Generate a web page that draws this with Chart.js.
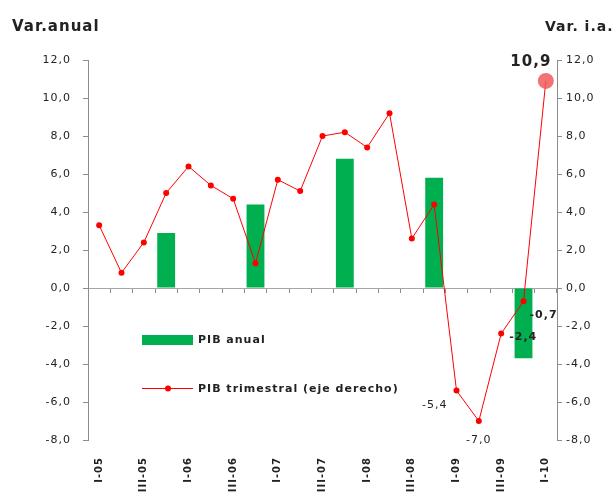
<!DOCTYPE html>
<html lang="es">
<head>
    <meta charset="UTF-8">
    <title>PIB anual y trimestral</title>
    <style>
        body {
            margin: 0;
            background-color: #fff;
        }

        #wrap {
            width: 613px;
            height: 495px;
        }
    </style>
</head>
<body>
    <div id="wrap">
        <canvas id="graph"></canvas>
    </div>

    <script src="https://cdn.jsdelivr.net/npm/chart.js"></script>
    <script>
        // quarters I-05 .. I-10
        const quarters = ['I-05', 'II-05', 'III-05', 'IV-05', 'I-06', 'II-06', 'III-06', 'IV-06',
            'I-07', 'II-07', 'III-07', 'IV-07', 'I-08', 'II-08', 'III-08', 'IV-08',
            'I-09', 'II-09', 'III-09', 'IV-09', 'I-10'];
        // annual GDP, shown on the last quarter of each year (left axis)
        const pibAnual = [null, null, null, 2.9, null, null, null, 4.4, null, null, null, 6.8,
            null, null, null, 5.8, null, null, null, -3.7, null];
        // quarterly GDP, year-on-year (right axis)
        const pibTrimestral = [3.3, 0.8, 2.4, 5.0, 6.4, 5.4, 4.7, 1.3, 5.7, 5.1, 8.0, 8.2,
            7.4, 9.2, 2.6, 4.4, -5.4, -7.0, -2.4, -0.7, 10.9];
        const axisMin = -8;
        const axisMax = 12;
        const axisStep = 2;

        const green = '#00b050';
        const red = '#ff0000';
        const axisColor = '#8c8c8c';
        const textColor = '#222';
        const font = 'DejaVu Sans';

        const fmt = v => v.toFixed(1).replace('.', ',');

        // labels drawn next to some points: [index, dx, dy, align, size, bold]
        const pointLabels = [
            [16, -9, 15, 'right', 11, false],
            [17, 0, 19, 'center', 11, false],
            [18, 8, 4, 'left', 11, true],
            [19, 6, 14, 'left', 11, true],
            [20, -15, -19, 'center', 15, true]
        ];

        // the source text is spaced out a little
        const spacing = {
            id: 'spacing',
            beforeLayout(chart) { chart.ctx.letterSpacing = '1px'; },
            beforeDraw(chart) { chart.ctx.letterSpacing = '1px'; }
        };

        const extras = {
            id: 'extras',
            afterDraw(chart) {
                const ctx = chart.ctx;
                ctx.save();
                ctx.letterSpacing = '1px';
                ctx.fillStyle = textColor;
                ctx.textBaseline = 'middle';

                // axis titles
                ctx.font = 'bold 15px "' + font + '"';
                ctx.textAlign = 'left';
                ctx.fillText('Var.anual', 12, 27);
                ctx.font = 'bold 14px "' + font + '"';
                ctx.fillText('Var. i.a.', 545, 27);

                // legend
                ctx.fillStyle = green;
                ctx.fillRect(142, 335, 51, 10);
                ctx.strokeStyle = red;
                ctx.lineWidth = 1;
                ctx.beginPath();
                ctx.moveTo(142, 388.5);
                ctx.lineTo(193, 388.5);
                ctx.stroke();
                ctx.fillStyle = red;
                ctx.beginPath();
                ctx.arc(168, 388.5, 3, 0, Math.PI * 2);
                ctx.fill();
                ctx.fillStyle = textColor;
                ctx.font = 'bold 11px "' + font + '"';
                ctx.textAlign = 'left';
                ctx.fillText('PIB anual', 198, 340);
                ctx.fillText('PIB trimestral (eje derecho)', 198, 389);

                // point labels
                const meta = chart.getDatasetMeta(0);
                pointLabels.forEach(([i, dx, dy, align, size, bold]) => {
                    const pt = meta.data[i];
                    ctx.font = (bold ? 'bold ' : '') + size + 'px "' + font + '"';
                    ctx.textAlign = align;
                    ctx.fillText(fmt(pibTrimestral[i]), pt.x + dx, pt.y + dy);
                });
                ctx.restore();
            }
        };

        const radii = pibTrimestral.map((v, i) => i === pibTrimestral.length - 1 ? 8 : 3);
        const pointColors = pibTrimestral.map((v, i) => i === pibTrimestral.length - 1 ? 'rgba(240, 90, 90, 0.85)' : red);

        const tickFont = { family: font, size: 11 };

        new Chart(document.getElementById('graph'), {
            data: {
                labels: quarters,
                datasets: [{
                    type: 'line',
                    label: 'PIB trimestral (eje derecho)',
                    data: pibTrimestral,
                    yAxisID: 'y1',
                    borderColor: red,
                    borderWidth: 1,
                    tension: 0,
                    pointRadius: radii,
                    pointBackgroundColor: pointColors,
                    pointBorderWidth: 0,
                    order: 0
                }, {
                    type: 'bar',
                    label: 'PIB anual',
                    data: pibAnual,
                    yAxisID: 'y',
                    backgroundColor: green,
                    barPercentage: 0.8,
                    categoryPercentage: 1,
                    order: 1
                }]
            },
            options: {
                responsive: true,
                maintainAspectRatio: false,
                animation: false,
                layout: { padding: { top: 60, left: 0, right: 0, bottom: 0 } },
                plugins: {
                    legend: { display: false },
                    tooltip: { enabled: false }
                },
                scales: {
                    x: {
                        type: 'category',
                        position: 'bottom',
                        offset: true,
                        grid: { display: false, drawTicks: false },
                        border: { display: false },
                        ticks: {
                            autoSkip: false,
                            minRotation: 90,
                            maxRotation: 90,
                            padding: 17,
                            color: textColor,
                            font: { family: font, size: 10, weight: 'bold' },
                            callback: (v, i) => i % 2 === 0 ? quarters[i] : ''
                        },
                        afterFit(scale) { scale.height = 55; }
                    },
                    x2: {
                        type: 'category',
                        axis: 'x',
                        labels: quarters,
                        position: { y: 0 },
                        offset: true,
                        grid: {
                            offset: true,
                            drawOnChartArea: false,
                            drawTicks: true,
                            tickLength: 4,
                            color: axisColor
                        },
                        border: { display: true, color: '#a6a6a6' },
                        ticks: { display: false },
                        afterFit(scale) { scale.height = 0; }
                    },
                    y: {
                        position: 'left',
                        min: axisMin,
                        max: axisMax,
                        grid: { drawOnChartArea: false, tickLength: 5, color: axisColor },
                        border: { color: axisColor },
                        ticks: {
                            stepSize: axisStep,
                            padding: 12,
                            color: textColor,
                            font: tickFont,
                            callback: v => fmt(v)
                        },
                        afterFit(scale) { scale.width = 88; }
                    },
                    y1: {
                        position: 'right',
                        min: axisMin,
                        max: axisMax,
                        grid: { drawOnChartArea: false, tickLength: 5, color: axisColor },
                        border: { color: axisColor },
                        ticks: {
                            stepSize: axisStep,
                            padding: 4,
                            color: textColor,
                            font: tickFont,
                            callback: v => fmt(v)
                        },
                        afterFit(scale) { scale.width = 56; }
                    }
                }
            },
            plugins: [spacing, extras]
        });
    </script>
</body>
</html>
